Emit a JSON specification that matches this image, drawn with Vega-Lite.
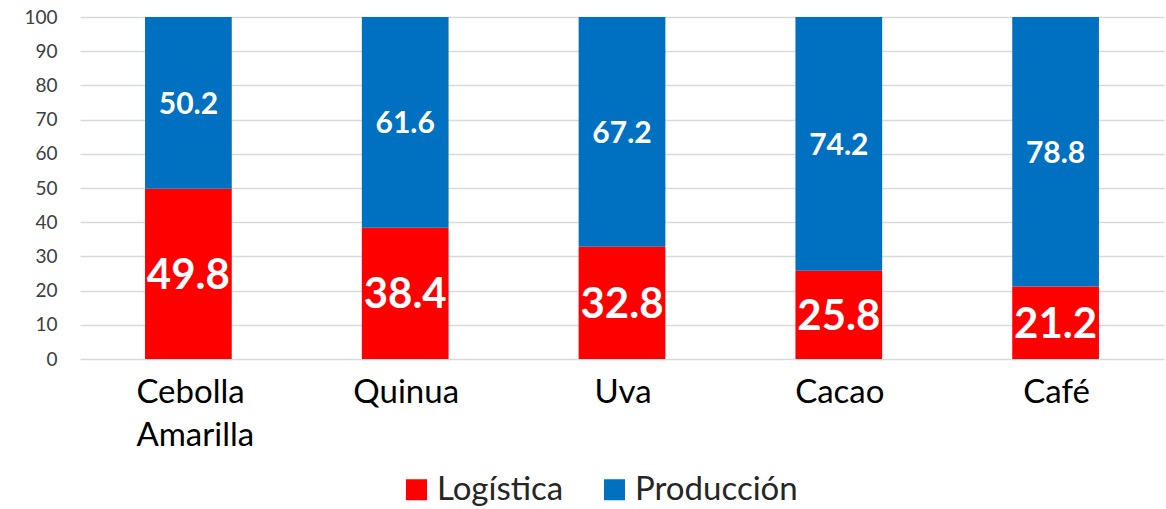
{
  "$schema": "https://vega.github.io/schema/vega-lite/v6.json",
  "width": 1084,
  "height": 342,
  "autosize": {"type": "none"},
  "padding": {"left": 80, "top": 17, "right": 2, "bottom": 150},
  "background": "white",
  "config": {
    "font": "Lato",
    "view": {"stroke": null}
  },
  "data": {
    "values": [
      {"crop": "Cebolla Amarilla", "series": "Logística", "value": 49.8},
      {"crop": "Cebolla Amarilla", "series": "Producción", "value": 50.2},
      {"crop": "Quinua", "series": "Logística", "value": 38.4},
      {"crop": "Quinua", "series": "Producción", "value": 61.6},
      {"crop": "Uva", "series": "Logística", "value": 32.8},
      {"crop": "Uva", "series": "Producción", "value": 67.2},
      {"crop": "Cacao", "series": "Logística", "value": 25.8},
      {"crop": "Cacao", "series": "Producción", "value": 74.2},
      {"crop": "Café", "series": "Logística", "value": 21.2},
      {"crop": "Café", "series": "Producción", "value": 78.8}
    ]
  },
  "transform": [
    {"stack": "value", "groupby": ["crop"], "sort": [{"field": "series", "order": "ascending"}], "as": ["v0", "v1"]},
    {"calculate": "(datum.v0 + datum.v1) / 2", "as": "mid"}
  ],
  "encoding": {
    "x": {
      "field": "crop",
      "type": "nominal",
      "sort": ["Cebolla Amarilla", "Quinua", "Uva", "Cacao", "Café"],
      "scale": {"paddingInner": 0.6, "paddingOuter": 0.3},
      "axis": {
        "title": null,
        "domain": false,
        "ticks": false,
        "labelAngle": 0,
        "labelFontSize": 33,
        "labelColor": "#000000",
        "labelPadding": 17,
        "labelLineHeight": 43,
        "labelAlign": {"condition": {"test": "datum.value === 'Cebolla Amarilla'", "value": "left"}, "value": "center"},
        "labelOffset": {"condition": {"test": "datum.value === 'Cebolla Amarilla'", "value": -52}, "value": 1},
        "labelExpr": "split(datum.label, ' ')"
      }
    }
  },
  "layer": [
    {
      "mark": {"type": "bar"},
      "encoding": {
        "y": {
          "field": "v0",
          "type": "quantitative",
          "scale": {"domain": [0, 100]},
          "axis": {
            "title": null,
            "domain": false,
            "ticks": false,
            "values": [0, 10, 20, 30, 40, 50, 60, 70, 80, 90, 100],
            "labelOverlap": false,
            "gridColor": "#D9D9D9",
            "gridWidth": 1.5,
            "labelFontSize": 19,
            "labelColor": "#404040",
            "labelPadding": 23
          }
        },
        "y2": {"field": "v1"},
        "color": {
          "field": "series",
          "type": "nominal",
          "scale": {"domain": ["Logística", "Producción"], "range": ["#FF0000", "#0070C0"]},
          "legend": {
            "title": null,
            "orient": "none",
            "direction": "horizontal",
            "legendX": 320,
            "legendY": 456,
            "symbolType": "square",
            "symbolSize": 441,
            "symbolStrokeWidth": 0,
            "labelFontSize": 33,
            "labelLimit": 400,
            "labelColor": "#262626",
            "labelOffset": 4,
            "columnPadding": 34
          }
        }
      }
    },
    {
      "mark": {"type": "text", "color": "white", "fontWeight": "bold", "baseline": "middle", "dy": 2},
      "encoding": {
        "y": {
          "field": "mid",
          "type": "quantitative",
          "axis": {
            "title": null,
            "domain": false,
            "ticks": false,
            "values": [0, 10, 20, 30, 40, 50, 60, 70, 80, 90, 100],
            "labelOverlap": false,
            "gridColor": "#D9D9D9",
            "gridWidth": 1.5,
            "labelFontSize": 19,
            "labelColor": "#404040",
            "labelPadding": 23
          }
        },
        "text": {"field": "value", "type": "quantitative", "format": ".1f"},
        "size": {"condition": {"test": "datum.series === 'Logística'", "value": 42}, "value": 30}
      }
    }
  ]
}
